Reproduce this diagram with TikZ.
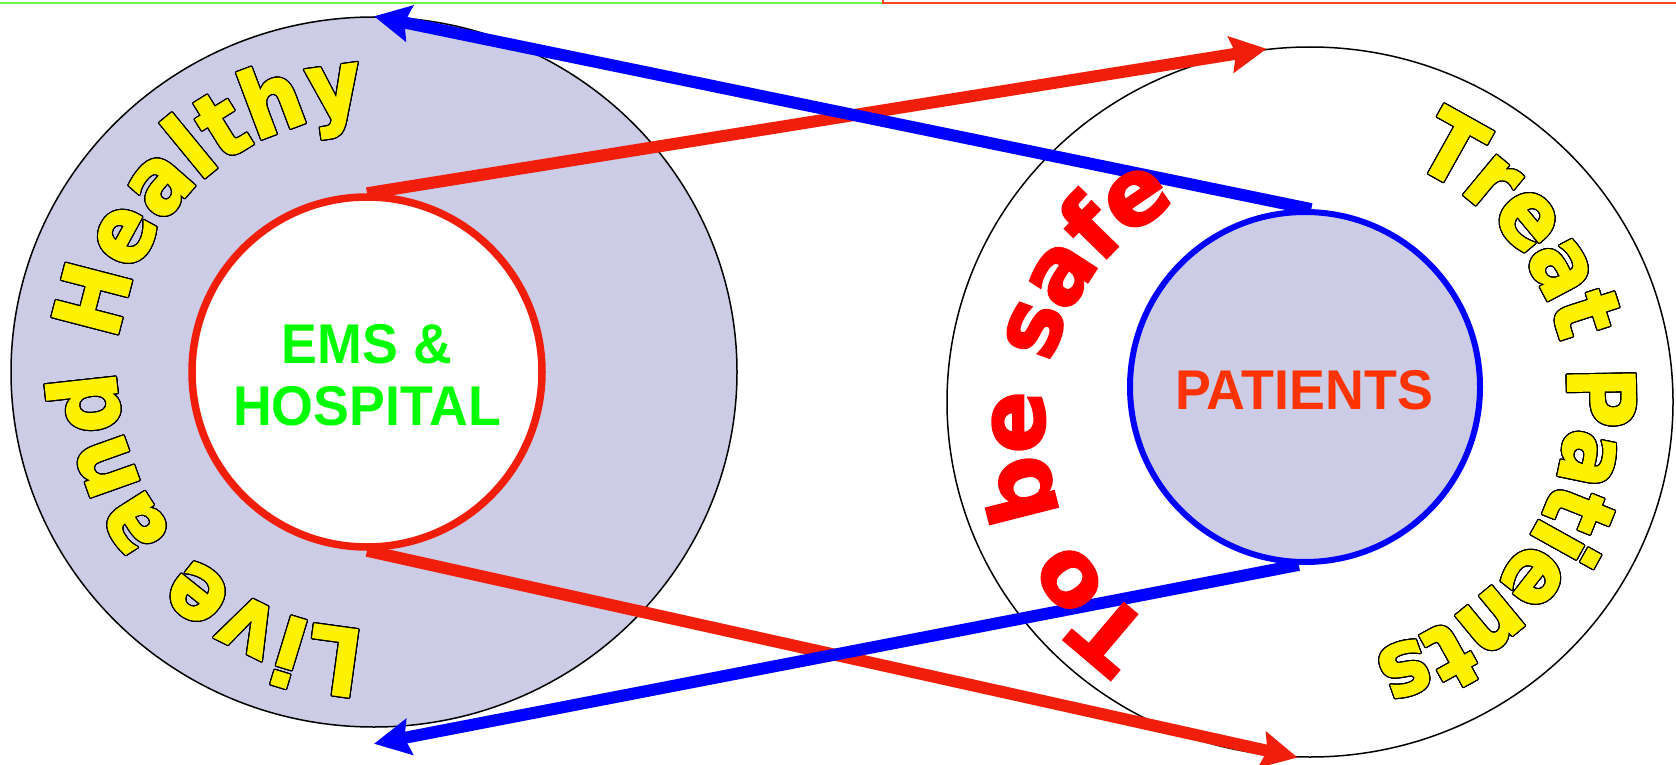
\documentclass[tikz,border=0pt]{standalone}
\usepackage{fontspec}
\setmainfont{Liberation Sans}
\newfontfamily\labfont{Liberation Sans}[FakeStretch=0.96]
\newfontfamily\arcfont{DejaVu Sans}[FakeStretch=0.9,FakeBold=2]
\newfontfamily\safefont{DejaVu Sans}[FakeBold=2.5]
\usepackage{contour}
\contourlength{1.2pt}
\contournumber{24}
\usetikzlibrary{decorations.text,arrows.meta,calc,shapes.geometric}
\definecolor{lav}{RGB}{204,204,230}
\definecolor{ered}{RGB}{240,30,10}
\definecolor{pblue}{RGB}{0,0,255}
\definecolor{egreen}{RGB}{0,255,0}
\definecolor{porange}{RGB}{255,51,0}
\definecolor{safered}{RGB}{255,0,0}
\definecolor{topgreen}{RGB}{110,245,70}
\definecolor{topred}{RGB}{250,70,30}
\newcommand\outl[1]{\contour{black}{#1}}
\begin{document}
\begin{tikzpicture}[x=1pt,y=1pt,
  link/.style={line width=12pt, -{Stealth[length=36pt,width=36pt,inset=5pt]}},
  outer/.style={ellipse, draw=black, line width=1.5pt, minimum width=726pt, minimum height=710pt, inner sep=0pt},
  inner/.style={circle, minimum size=350pt, inner sep=0pt},
  label/.style={font=\labfont\bfseries\fontsize{56}{62}\selectfont, align=center},
  arcyellow/.style={decorate, decoration={text effects along path, text={#1},
     text effects/.cd, text along path, fit text to path, character command=\outl,
     characters={text=yellow, font=\arcfont\bfseries\fontsize{92}{92}\selectfont}}},
  arcred/.style={decorate, decoration={text effects along path, text={#1},
     text effects/.cd, text along path, fit text to path,
     characters={text=safered, font=\safefont\bfseries\fontsize{92}{92}\selectfont}}}
]
\useasboundingbox (0,0) rectangle (1676,-765);
% top border lines
\draw[topgreen, line width=2.5pt] (0,-3) -- (883,-3);
\draw[topred, line width=2.5pt] (883,-3) -- (1676,-3);
\draw[topred, line width=2pt] (883,0) -- (883,-4);
% shapes
\node[outer, fill=lav] (live) at (374,-372) {};
\node[inner, draw=ered, line width=7.5pt, fill=white] (ems) at (367,-372) {};
\node[label, text=egreen] (emslabel) at (367,-375) {EMS \&\\HOSPITAL};
\node[outer, fill=white] (treat) at (1310,-402) {};
\node[inner, draw=pblue, line width=6pt, fill=lav] (pat) at (1305,-387) {};
\node[label, text=porange] (patlabel) at (1304,-390) {PATIENTS};
\coordinate (lb) at ([yshift=-16pt]live.south);
% connectors
\draw[link, ered] (ems.north) -- (treat.97);
\draw[link, ered] (ems.south) -- (treat.268);
\draw[link, pblue] (pat.88) -- (live.north);
\draw[link, pblue] (pat.268) -- (lb);
% arc texts
\path[arcyellow={Live and Healthy}] ($(live.center)+(268:258)$) arc[start angle=268, end angle=92, radius=258];
\path[arcyellow={Treat Patients}] ($(treat.center)+(67:258)$) arc[start angle=67, end angle=-76, radius=258];
\path[arcred={To be safe}] (1289,-422) ++(237:245) arc[start angle=237, end angle=117, radius=245];
\end{tikzpicture}
\end{document}
